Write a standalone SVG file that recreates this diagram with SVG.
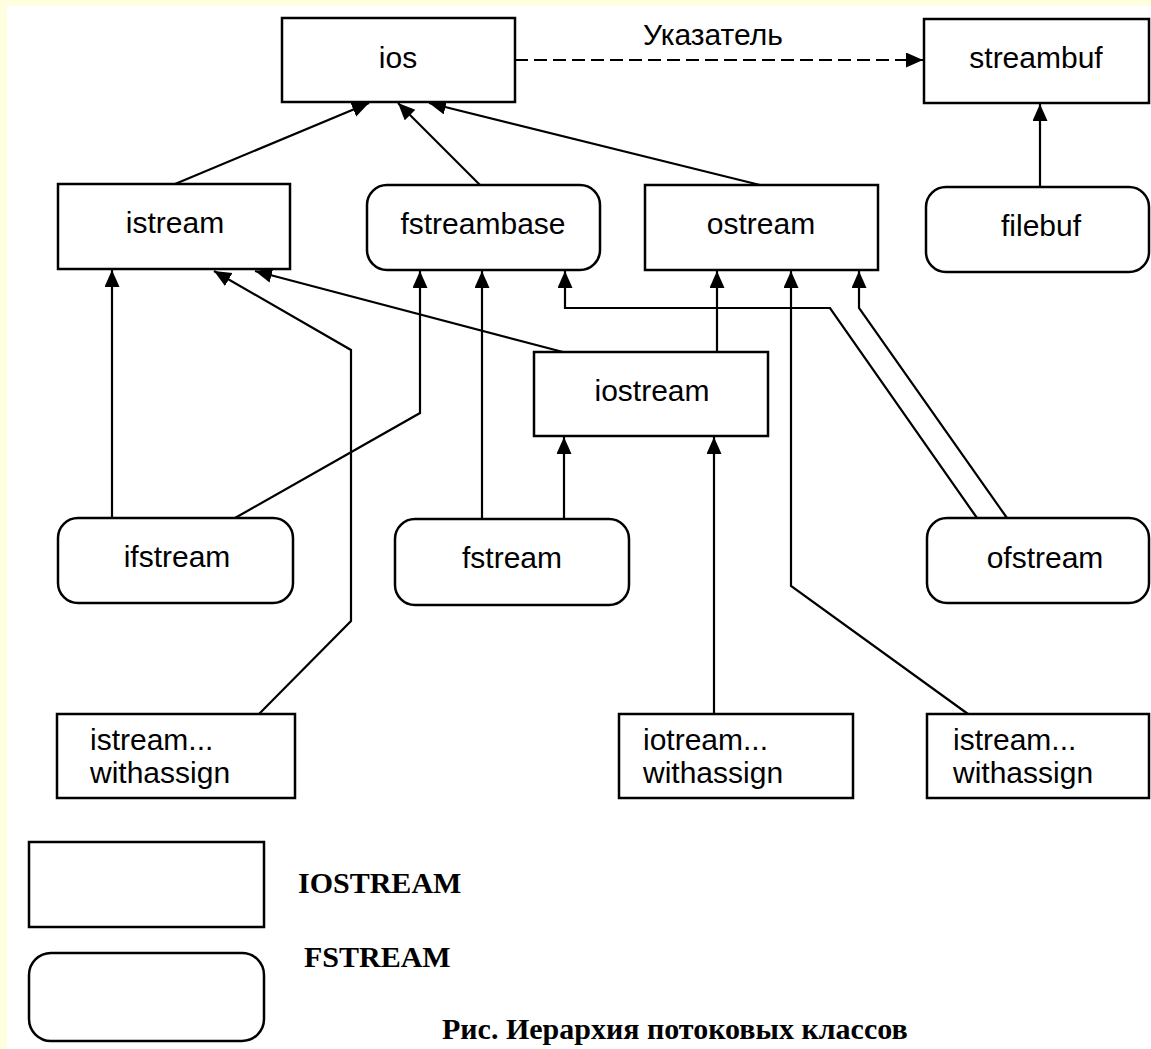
<svg xmlns="http://www.w3.org/2000/svg" width="1151" height="1049" viewBox="0 0 1151 1049">
<style>
.box{fill:#fff;stroke:#000;stroke-width:2.5}
.lbl{font-family:"Liberation Sans",Arial,sans-serif;font-size:30px;fill:#000;text-anchor:middle}
.lbl2{font-family:"Liberation Sans",Arial,sans-serif;font-size:30px;fill:#000}
.leg{font-family:"Liberation Serif","Times New Roman",serif;font-weight:bold;font-size:30px;fill:#000}
.con{fill:none;stroke:#000;stroke-width:2.2}
</style>
<defs>
<marker id="arr" markerUnits="userSpaceOnUse" markerWidth="18" markerHeight="16" refX="17" refY="7.5" orient="auto" viewBox="0 0 18 16">
<path d="M0,0 L17,7.5 L0,15 z" fill="#000"/>
</marker>
</defs>
<rect x="0" y="0" width="1151" height="1049" fill="#FFFFDF"/>
<rect x="7" y="6" width="1144" height="1043" fill="#fff"/>

<g id="connectors">
<line class="con" x1="175" y1="184" x2="369" y2="103" marker-end="url(#arr)"/>
<line class="con" x1="480" y1="185" x2="398" y2="103" marker-end="url(#arr)"/>
<line class="con" x1="760" y1="185" x2="429" y2="103" marker-end="url(#arr)"/>
<line class="con" x1="515" y1="60" x2="923" y2="60" stroke-dasharray="13 6" marker-end="url(#arr)"/>
<line class="con" x1="1040" y1="187" x2="1040" y2="104" marker-end="url(#arr)"/>
<line class="con" x1="112" y1="518" x2="112" y2="270" marker-end="url(#arr)"/>
<polyline class="con" points="235,518 420,413 420,271" marker-end="url(#arr)"/>
<line class="con" x1="482" y1="519" x2="482" y2="271" marker-end="url(#arr)"/>
<line class="con" x1="564" y1="519" x2="564" y2="437" marker-end="url(#arr)"/>
<line class="con" x1="563" y1="352" x2="255" y2="271" marker-end="url(#arr)"/>
<line class="con" x1="717" y1="352" x2="717" y2="271" marker-end="url(#arr)"/>
<polyline class="con" points="259,714 351,621 351,350 214,271" marker-end="url(#arr)"/>
<line class="con" x1="714" y1="714" x2="714" y2="437" marker-end="url(#arr)"/>
<polyline class="con" points="968,714 791,586 791,271" marker-end="url(#arr)"/>
<polyline class="con" points="977,518 830,308 565,308 565,271" marker-end="url(#arr)"/>
<polyline class="con" points="1007,518 859,308 859,271" marker-end="url(#arr)"/>
</g>

<g id="label-pointer"><text class="lbl2" x="643" y="45" font-size="27">Указатель</text></g>

<g id="ios"><rect class="box" x="282" y="18" width="233" height="84"/><text class="lbl" x="398" y="68">ios</text></g>
<g id="streambuf"><rect class="box" x="924" y="19" width="225" height="84"/><text class="lbl" x="1036" y="68">streambuf</text></g>
<g id="istream"><rect class="box" x="58" y="184" width="232" height="85"/><text class="lbl" x="175" y="233">istream</text></g>
<g id="fstreambase"><rect class="box" x="367" y="185" width="233" height="85" rx="20"/><text class="lbl" x="483" y="234">fstreambase</text></g>
<g id="ostream"><rect class="box" x="645" y="185" width="233" height="85"/><text class="lbl" x="761" y="234">ostream</text></g>
<g id="filebuf"><rect class="box" x="926" y="187" width="223" height="85" rx="20"/><text class="lbl" x="1041" y="236">filebuf</text></g>
<g id="iostream"><rect class="box" x="534" y="352" width="234" height="84"/><text class="lbl" x="652" y="401">iostream</text></g>
<g id="ifstream"><rect class="box" x="58" y="518" width="235" height="85" rx="20"/><text class="lbl" x="177" y="567">ifstream</text></g>
<g id="fstream"><rect class="box" x="395" y="519" width="234" height="86" rx="20"/><text class="lbl" x="512" y="568">fstream</text></g>
<g id="ofstream"><rect class="box" x="927" y="518" width="222" height="85" rx="20"/><text class="lbl" x="1045" y="568">ofstream</text></g>
<g id="istream-withassign-1"><rect class="box" x="57" y="714" width="238" height="84"/><text class="lbl2" x="90" y="750">istream...</text><text class="lbl2" x="90" y="783">withassign</text></g>
<g id="iotream-withassign"><rect class="box" x="619" y="714" width="234" height="84"/><text class="lbl2" x="643" y="750">iotream...</text><text class="lbl2" x="643" y="783">withassign</text></g>
<g id="istream-withassign-2"><rect class="box" x="927" y="714" width="222" height="84"/><text class="lbl2" x="953" y="750">istream...</text><text class="lbl2" x="953" y="783">withassign</text></g>

<g id="legend">
<rect class="box" x="29" y="842" width="235" height="85"/>
<rect class="box" x="29" y="953" width="235" height="88" rx="22"/>
<text class="leg" x="298" y="893">IOSTREAM</text>
<text class="leg" x="304" y="967">FSTREAM</text>
<text class="leg" x="442" y="1039">Рис. Иерархия потоковых классов</text>
</g>
</svg>
